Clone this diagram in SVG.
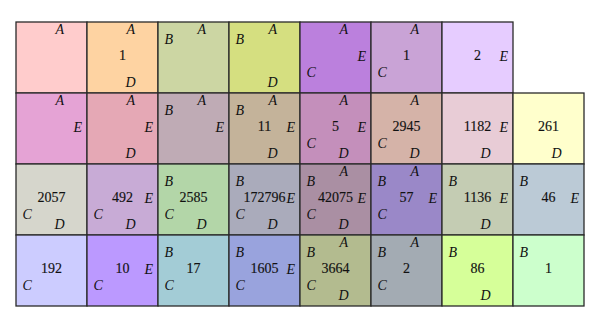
<svg xmlns="http://www.w3.org/2000/svg" width="598" height="322" viewBox="0 0 598 322">
<style>
rect.c{stroke:#2a2a2a;stroke-width:1.3}
text{font-family:"Liberation Serif","Times New Roman",serif;font-size:14px;fill:#111}
.l{font-style:italic}
.n{text-anchor:middle;font-size:14px;stroke:#111;stroke-width:0.15}
</style>
<rect width="598" height="322" fill="#ffffff"/>
<!-- Row 0 -->
<g id="r0c0" transform="translate(16,22)"><rect class="c" width="71" height="71" fill="#ffcccc"/><text class="l" x="39.5" y="12">A</text></g>
<g id="r0c1" transform="translate(87,22)"><rect class="c" width="71" height="71" fill="#fed3a2"/><text class="l" x="39.5" y="12">A</text><text class="n" x="35.5" y="38">1</text><text class="l" x="38.5" y="65">D</text></g>
<g id="r0c2" transform="translate(158,22)"><rect class="c" width="71" height="71" fill="#ccd6a3"/><text class="l" x="6.5" y="22">B</text><text class="l" x="39.5" y="12">A</text></g>
<g id="r0c3" transform="translate(229,22)"><rect class="c" width="71" height="71" fill="#d5df80"/><text class="l" x="6.5" y="22">B</text><text class="l" x="39.5" y="12">A</text><text class="l" x="38.5" y="65">D</text></g>
<g id="r0c4" transform="translate(300,22)"><rect class="c" width="71" height="71" fill="#bb80dd"/><text class="l" x="39.5" y="12">A</text><text class="l" x="57.5" y="39">E</text><text class="l" x="6.5" y="55">C</text></g>
<g id="r0c5" transform="translate(371,22)"><rect class="c" width="71" height="71" fill="#c9a3d6"/><text class="l" x="39.5" y="12">A</text><text class="n" x="35.5" y="38">1</text><text class="l" x="6.5" y="55">C</text></g>
<g id="r0c6" transform="translate(442,22)"><rect class="c" width="71" height="71" fill="#e6ccff"/><text class="n" x="35.5" y="38">2</text><text class="l" x="57.5" y="39">E</text></g>
<!-- Row 1 -->
<g id="r1c0" transform="translate(16,93)"><rect class="c" width="71" height="71" fill="#e5a3d5"/><text class="l" x="39.5" y="12">A</text><text class="l" x="57.5" y="39">E</text></g>
<g id="r1c1" transform="translate(87,93)"><rect class="c" width="71" height="71" fill="#e5a8b5"/><text class="l" x="39.5" y="12">A</text><text class="l" x="57.5" y="39">E</text><text class="l" x="38.5" y="65">D</text></g>
<g id="r1c2" transform="translate(158,93)"><rect class="c" width="71" height="71" fill="#bfabb5"/><text class="l" x="6.5" y="22">B</text><text class="l" x="39.5" y="12">A</text><text class="l" x="57.5" y="39">E</text></g>
<g id="r1c3" transform="translate(229,93)"><rect class="c" width="71" height="71" fill="#c4b39a"/><text class="l" x="6.5" y="22">B</text><text class="l" x="39.5" y="12">A</text><text class="n" x="35.5" y="38">11</text><text class="l" x="57.5" y="39">E</text><text class="l" x="38.5" y="65">D</text></g>
<g id="r1c4" transform="translate(300,93)"><rect class="c" width="71" height="71" fill="#c48fbb"/><text class="l" x="39.5" y="12">A</text><text class="n" x="35.5" y="38">5</text><text class="l" x="57.5" y="39">E</text><text class="l" x="6.5" y="55">C</text><text class="l" x="38.5" y="65">D</text></g>
<g id="r1c5" transform="translate(371,93)"><rect class="c" width="71" height="71" fill="#d5b3a8"/><text class="l" x="39.5" y="12">A</text><text class="n" x="35.5" y="38">2945</text><text class="l" x="6.5" y="55">C</text><text class="l" x="38.5" y="65">D</text></g>
<g id="r1c6" transform="translate(442,93)"><rect class="c" width="71" height="71" fill="#e8ccd6"/><text class="n" x="35.5" y="38">1182</text><text class="l" x="57.5" y="39">E</text><text class="l" x="38.5" y="65">D</text></g>
<g id="r1c7" transform="translate(513,93)"><rect class="c" width="71" height="71" fill="#ffffcc"/><text class="n" x="35.5" y="38">261</text><text class="l" x="38.5" y="65">D</text></g>
<!-- Row 2 -->
<g id="r2c0" transform="translate(16,164)"><rect class="c" width="71" height="71" fill="#d6d6cc"/><text class="n" x="35.5" y="38">2057</text><text class="l" x="6.5" y="55">C</text><text class="l" x="38.5" y="65">D</text></g>
<g id="r2c1" transform="translate(87,164)"><rect class="c" width="71" height="71" fill="#c8abd6"/><text class="n" x="35.5" y="38">492</text><text class="l" x="57.5" y="39">E</text><text class="l" x="6.5" y="55">C</text><text class="l" x="38.5" y="65">D</text></g>
<g id="r2c2" transform="translate(158,164)"><rect class="c" width="71" height="71" fill="#b3d6a8"/><text class="l" x="6.5" y="22">B</text><text class="n" x="35.5" y="38">2585</text><text class="l" x="6.5" y="55">C</text><text class="l" x="38.5" y="65">D</text></g>
<g id="r2c3" transform="translate(229,164)"><rect class="c" width="71" height="71" fill="#aaabbb"/><text class="l" x="6.5" y="22">B</text><text class="n" x="35.5" y="38">172796</text><text class="l" x="57.5" y="39">E</text><text class="l" x="6.5" y="55">C</text><text class="l" x="38.5" y="65">D</text></g>
<g id="r2c4" transform="translate(300,164)"><rect class="c" width="71" height="71" fill="#aa8fa3"/><text class="l" x="6.5" y="22">B</text><text class="l" x="39.5" y="12">A</text><text class="n" x="35.5" y="38">42075</text><text class="l" x="57.5" y="39">E</text><text class="l" x="6.5" y="55">C</text><text class="l" x="38.5" y="65">D</text></g>
<g id="r2c5" transform="translate(371,164)"><rect class="c" width="71" height="71" fill="#9a88c8"/><text class="l" x="6.5" y="22">B</text><text class="l" x="39.5" y="12">A</text><text class="n" x="35.5" y="38">57</text><text class="l" x="57.5" y="39">E</text><text class="l" x="6.5" y="55">C</text></g>
<g id="r2c6" transform="translate(442,164)"><rect class="c" width="71" height="71" fill="#c4ccb3"/><text class="l" x="6.5" y="22">B</text><text class="n" x="35.5" y="38">1136</text><text class="l" x="57.5" y="39">E</text><text class="l" x="38.5" y="65">D</text></g>
<g id="r2c7" transform="translate(513,164)"><rect class="c" width="71" height="71" fill="#bbcad6"/><text class="l" x="6.5" y="22">B</text><text class="n" x="35.5" y="38">46</text><text class="l" x="57.5" y="39">E</text></g>
<!-- Row 3 -->
<g id="r3c0" transform="translate(16,235)"><rect class="c" width="71" height="71" fill="#ccccff"/><text class="n" x="35.5" y="38">192</text><text class="l" x="6.5" y="55">C</text></g>
<g id="r3c1" transform="translate(87,235)"><rect class="c" width="71" height="71" fill="#bb99ff"/><text class="n" x="35.5" y="38">10</text><text class="l" x="57.5" y="39">E</text><text class="l" x="6.5" y="55">C</text></g>
<g id="r3c2" transform="translate(158,235)"><rect class="c" width="71" height="71" fill="#a3ccd6"/><text class="l" x="6.5" y="22">B</text><text class="n" x="35.5" y="38">17</text><text class="l" x="6.5" y="55">C</text></g>
<g id="r3c3" transform="translate(229,235)"><rect class="c" width="71" height="71" fill="#99a3dd"/><text class="l" x="6.5" y="22">B</text><text class="n" x="35.5" y="38">1605</text><text class="l" x="57.5" y="39">E</text><text class="l" x="6.5" y="55">C</text></g>
<g id="r3c4" transform="translate(300,235)"><rect class="c" width="71" height="71" fill="#b3bb8f"/><text class="l" x="6.5" y="22">B</text><text class="l" x="39.5" y="12">A</text><text class="n" x="35.5" y="38">3664</text><text class="l" x="6.5" y="55">C</text><text class="l" x="38.5" y="65">D</text></g>
<g id="r3c5" transform="translate(371,235)"><rect class="c" width="71" height="71" fill="#a3abb3"/><text class="l" x="6.5" y="22">B</text><text class="l" x="39.5" y="12">A</text><text class="n" x="35.5" y="38">2</text><text class="l" x="6.5" y="55">C</text></g>
<g id="r3c6" transform="translate(442,235)"><rect class="c" width="71" height="71" fill="#d6ff99"/><text class="l" x="6.5" y="22">B</text><text class="n" x="35.5" y="38">86</text><text class="l" x="38.5" y="65">D</text></g>
<g id="r3c7" transform="translate(513,235)"><rect class="c" width="71" height="71" fill="#ccffcc"/><text class="l" x="6.5" y="22">B</text><text class="n" x="35.5" y="38">1</text></g>
</svg>
